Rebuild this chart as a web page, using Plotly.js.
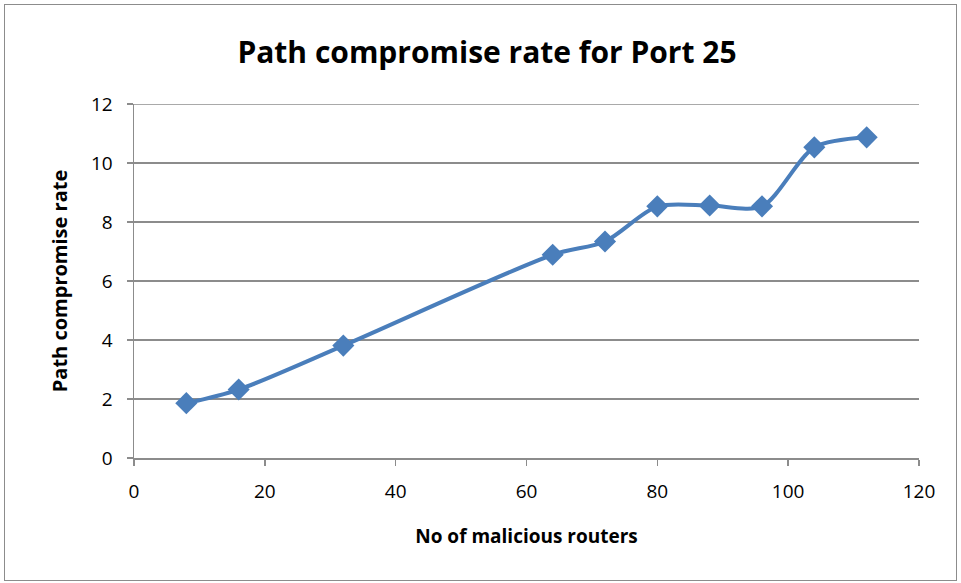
<!DOCTYPE html>
<html>
<head>
<meta charset="utf-8">
<script src="https://cdn.plot.ly/plotly-3.0.1.min.js"></script>
<style>
html,body{margin:0;padding:0;background:#fff;}
#frame{position:absolute;left:4px;top:4px;width:953px;height:577px;border:1.5px solid #8c8c8c;box-sizing:border-box;}
#chart{position:absolute;left:0;top:0;width:961px;height:583px;}
</style>
</head>
<body>
<div id="frame"></div>
<div id="chart"></div>
<script>
const routers = [8, 16, 32, 64, 72, 80, 88, 96, 104, 112];
const compromiseRate = [1.86, 2.32, 3.81, 6.89, 7.34, 8.53, 8.56, 8.53, 10.53, 10.87];
const xTicks = [0, 20, 40, 60, 80, 100, 120];
const yTicks = [0, 2, 4, 6, 8, 10, 12];

const trace = {
  x: routers,
  y: compromiseRate,
  type: 'scatter',
  mode: 'lines+markers',
  line: {color: '#4A7EBB', width: 4, shape: 'spline', smoothing: 0.8},
  marker: {symbol: 'diamond', size: 17, color: '#4A7EBB'},
  cliponaxis: false
};

const layout = {
  width: 961, height: 583,
  margin: {l: 134, r: 42, t: 104, b: 125},
  paper_bgcolor: 'rgba(0,0,0,0)',
  plot_bgcolor: 'rgba(0,0,0,0)',
  showlegend: false,
  font: {family: 'Open Sans, sans-serif', color: '#000'},
  title: {
    text: 'Path compromise rate for Port 25',
    font: {family: 'Open Sans', size: 30, color: '#000', weight: 'bold'},
    x: 487/961, xanchor: 'center', xref: 'container',
    y: 1 - 52/583, yanchor: 'middle', yref: 'container'
  },
  shapes: [{
    type: 'line', xref: 'paper', yref: 'y', x0: 0, x1: 1, y0: 12, y1: 12,
    line: {color: '#8c8c8c', width: 1.5}, layer: 'below'
  }],
  xaxis: {
    range: [0, 120],
    tickvals: xTicks,
    ticktext: xTicks.map(String),
    showgrid: false,
    zeroline: false,
    showline: true, linecolor: '#8c8c8c', linewidth: 1.5,
    ticks: 'outside', ticklen: 6, tickcolor: '#8c8c8c', tickwidth: 1.5,
    ticklabelstandoff: 10,
    tickfont: {family: 'Open Sans', size: 19, color: '#000'},
    title: {text: 'No of malicious routers', font: {family: 'Open Sans', size: 19, color: '#000', weight: 'bold'}, standoff: 26},
    fixedrange: true
  },
  yaxis: {
    range: [0, 12],
    tickvals: yTicks,
    ticktext: yTicks.map(String),
    showgrid: true, gridcolor: '#8c8c8c', gridwidth: 1.5,
    zeroline: false,
    showline: true, linecolor: '#8c8c8c', linewidth: 1.5,
    ticks: 'outside', ticklen: 6, tickcolor: '#8c8c8c', tickwidth: 1.5,
    ticklabelstandoff: 10,
    tickfont: {family: 'Open Sans', size: 19, color: '#000'},
    title: {text: 'Path compromise rate', font: {family: 'Open Sans', size: 20, color: '#000', weight: 'bold'}, standoff: 18},
    fixedrange: true
  }
};

Plotly.newPlot('chart', [trace], layout, {displayModeBar: false, staticPlot: true});
</script>
</body>
</html>
